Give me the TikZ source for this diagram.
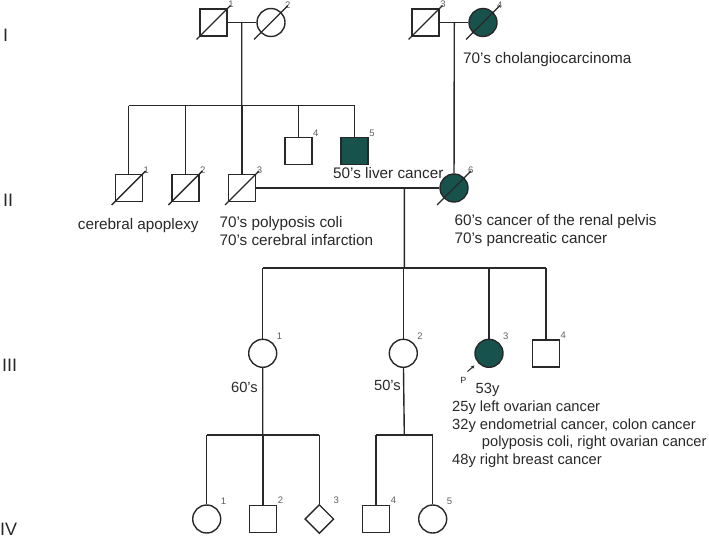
\documentclass[tikz,border=0pt]{standalone}
\usepackage{fontspec}
\setmainfont{Liberation Sans}
\usepackage{xcolor}
\definecolor{pine}{RGB}{24,82,76}
\definecolor{coal}{RGB}{40,40,40}
\definecolor{slate}{RGB}{95,95,95}
\usepackage{tikz}
\usetikzlibrary{arrows.meta,shapes.geometric}
\tikzset{
  %% Individuals
  male/.style={draw=coal, line width=1.4pt, rectangle, minimum size=27pt, inner sep=0pt},
  female/.style={draw=coal, line width=1.4pt, circle, minimum size=28pt, inner sep=0pt},
  unknown/.style={draw=coal, line width=1.4pt, diamond, minimum size=29pt, inner sep=0pt},
  sick/.style={fill=pine},
  %% Texts
  tag/.style={font=\fontsize{9.5}{10}\selectfont, text=slate, inner sep=0.5pt, anchor=south west},
  ctag/.style={tag, xshift=3pt, yshift=3pt},
  note/.style={font=\fontsize{15.3}{17.6}\selectfont, text=coal, inner sep=0pt, anchor=base west, align=left},
  small note/.style={note, font=\fontsize{14.7}{17.6}\selectfont},
  gen/.style={font=\fontsize{18}{18}\selectfont, text=coal, inner sep=0pt, anchor=base west},
  link/.style={draw=coal, line width=1.4pt},
}

\begin{document}
\begin{tikzpicture}[x=1pt,y=-1pt]
\useasboundingbox (0,0) rectangle (709,538);
%% generation I
\node[male, label={[tag]north east:1}] (I1) at (213.5,22.5) {};
\node[female, label={[ctag]north east:2}] (I2) at (271,22.5) {};
\node[male, label={[tag]north east:3}] (I3) at (425.5,22.5) {};
\node[female, sick, label={[ctag]north east:4}] (I4) at (483,22.5) {};
\node[note] (n4) at (463,63.5) {70’s cholangiocarcinoma};
%% generation II
\node[male, label={[tag]north east:1}] (II1) at (128.7,188) {};
\node[male, label={[tag]north east:2}] (II2) at (185.3,188) {};
\node[male, label={[tag]north east:3}] (II3) at (242,188) {};
\node[male, label={[tag]north east:4}] (II4) at (298.3,151) {};
\node[male, sick, label={[tag]north east:5}] (II5) at (354.5,151) {};
\node[female, sick, label={[ctag]north east:6}] (II6) at (454,188) {};
\node[note] (n5) at (333,178) {50’s liver cancer};
\node[note] (n1) at (77.7,229.3) {cerebral apoplexy};
% multi-line notes sit on their last line
\node[note] (n3) at (219.3,245) {70’s polyposis coli\\70’s cerebral infarction};
\node[note] (n6) at (454.3,243.3) {60’s cancer of the renal pelvis\\70’s pancreatic cancer};
%% generation III
\node[female, label={[ctag]north east:1}] (III1) at (262.7,353.3) {};
\node[female, label={[ctag]north east:2}] (III2) at (403.3,353.3) {};
\node[female, sick, label={[ctag]north east:3}] (III3) at (489,353.3) {};
\node[male, label={[tag]north east:4}] (III4) at (545.8,353.3) {};
\node[small note, anchor=base east] (m1) at (258,392.7) {60’s};
\node[small note, anchor=base east] (m2) at (401,390) {50’s};
\node[font=\fontsize{9}{10}\selectfont, text=coal, inner sep=0pt] (P) at (463.3,380) {P};
\coordinate (pa) at (467.5,371.5);
\coordinate (pb) at (474.5,365.5);
\draw[link, line width=1pt, -{Stealth[length=3.5pt,width=3.5pt]}] (pa) -- (pb);
\node[small note] (age) at (475.5,393.3) {53y};
\node[small note] (hist) at (452,464.3) {25y left ovarian cancer\\32y endometrial cancer, colon cancer\\
  \hspace*{29.7pt}polyposis coli, right ovarian cancer\\48y right breast cancer};
%% generation IV
\node[female, label={[ctag]north east:1}] (IV1) at (206.7,519) {};
\node[male, label={[tag]north east:2}] (IV2) at (263,518.7) {};
\node[unknown, label={[tag, xshift=6pt, yshift=7pt]north east:3}] (IV3) at (319.3,519) {};
\node[male, label={[tag]north east:4}] (IV4) at (376,518.7) {};
\node[female, label={[ctag]north east:5}] (IV5) at (432.7,519) {};
%% generation numbers
\node[gen] (g1) at (3,41.7) {I};
\node[gen] (g2) at (3,206.7) {II};
\node[gen] (g3) at (2,371.7) {III};
\node[gen] (g4) at (0,535.3) {IV};
%% lines of descent
\coordinate (c1) at (241.7,22.5);
\coordinate (s1) at (241.7,105.5);
\coordinate (c2) at (454.3,22.5);
\coordinate (c3) at (404.3,188);
\coordinate (s3) at (404.3,268);
\coordinate (s4) at (262.7,435);
\coordinate (s5) at (404.3,435);
\draw[link] (I1) -- (I2) (I3) -- (I4) (II3) -- (II6);
\draw[link] (c1) -- (s1) (c2) -- (II6) (c3) -- (s3);
\draw[link] (III1) -- (s4) (III2) -- (s5);
\draw[link] (II1 |- s1) -- (II5 |- s1);
\foreach \n in {II1,II2,II3,II4,II5} \draw[link] (\n |- s1) -- (\n);
\draw[link] (III1 |- s3) -- (III4 |- s3);
\foreach \n in {III1,III2,III3,III4} \draw[link] (\n |- s3) -- (\n);
\draw[link] (IV1 |- s4) -- (IV3 |- s4);
\foreach \n in {IV1,IV2,IV3} \draw[link] (\n |- s4) -- (\n);
\draw[link] (IV4 |- s5) -- (IV5 |- s5);
\foreach \n in {IV4,IV5} \draw[link] (\n |- s5) -- (\n);
%% deceased
\foreach \n in {I1,I2,I3,I4,II1,II2,II3,II6} \draw[link] (\n.center) +(-17,17) -- +(17,-17);
\end{tikzpicture}
\end{document}
